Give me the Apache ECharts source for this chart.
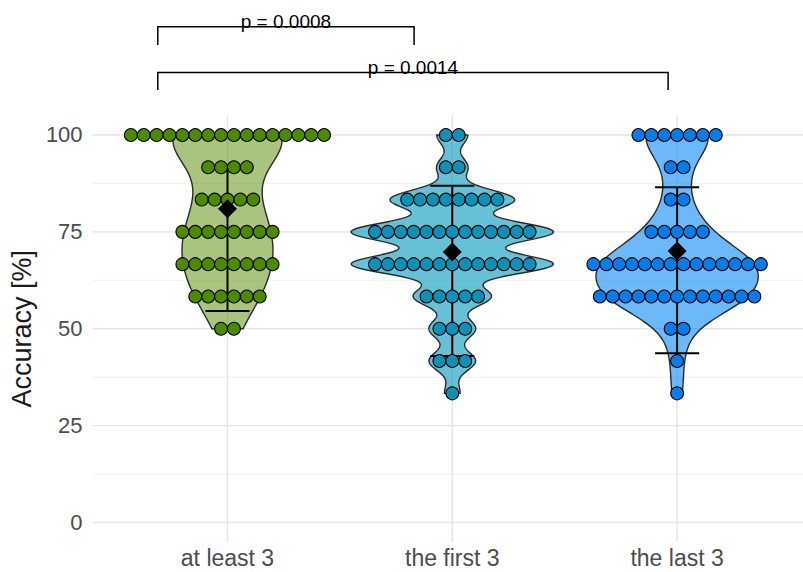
<!DOCTYPE html>
<html>
<head>
<meta charset="utf-8">
<style>
  html, body { margin: 0; padding: 0; background: #fff; }
  #chart { width: 803px; height: 572px; }
</style>
<script src="https://cdn.jsdelivr.net/npm/echarts@6/dist/echarts.min.js"></script>
</head>
<body>
<div id="chart"></div>
<script>
// 分组 / groups
const categories = ['at least 3', 'the first 3', 'the last 3'];
// accuracy levels (steps of 1/12)
const levels = [100, 91.67, 83.33, 75, 66.67, 58.33, 50, 41.67, 33.33];
// participants at each level, per group
const countsAtLeast = [16, 4, 5, 8, 8, 6, 2, 0, 0];
const countsFirst   = [2, 2, 8, 13, 13, 5, 3, 3, 1];
const countsLast    = [7, 2, 2, 5, 14, 13, 2, 1, 1];
// error bar ends
const errLow  = [54.6, 43.0, 43.7];
const errHigh = [91.8, 86.9, 86.5];
// significance brackets
const bracketFrom = [0.69, 0.69];
const bracketTo   = [1.83, 2.96];
const bracketY    = [127.9, 116.1];
const bracketTip  = [123.2, 111.6];
const bracketText = ['p = 0.0008', 'p = 0.0014'];
// tick labels
const yTicks = [0, 25, 50, 75, 100];
const yMinor = [12.5, 37.5, 62.5, 87.5];
const xTicks = [1, 2, 3];

const dotColors = ['#4e8a00', '#1190b5', '#0b7be8'];
const violinFills = ['rgba(81,137,0,0.5)', 'rgba(8,155,189,0.62)', 'rgba(10,137,243,0.6)'];
const FONT = '"Liberation Sans", Arial, sans-serif';
const DOT_STEP = 0.0573;   // dot width in x units
const X_MIN = 0.4, X_MAX = 3.56, Y_MIN = -5, Y_MAX = 105;

function expand(counts) {
  const v = [];
  counts.forEach((c, i) => { for (let k = 0; k < c; k++) v.push(levels[i]); });
  return v.sort((a, b) => a - b);
}
const groups = [countsAtLeast, countsFirst, countsLast].map(expand);

function mean(s) { return s.reduce((a, b) => a + b, 0) / s.length; }
function quantile(s, p) {
  const h = (s.length - 1) * p, lo = Math.floor(h);
  return s[lo] + (h - lo) * (s[Math.min(lo + 1, s.length - 1)] - s[lo]);
}
// R bw.nrd0
function bwNrd0(s) {
  const m = mean(s);
  const sd = Math.sqrt(s.reduce((a, x) => a + (x - m) * (x - m), 0) / (s.length - 1));
  const iqr = quantile(s, 0.75) - quantile(s, 0.25);
  return 0.9 * Math.min(sd, iqr / 1.34) * Math.pow(s.length, -0.2);
}
// gaussian kernel density, trimmed to the data range
function kde(s) {
  const bw = bwNrd0(s), n = s.length, lo = s[0], hi = s[n - 1], out = [];
  const k = 1 / (n * bw * Math.sqrt(2 * Math.PI));
  for (let i = 0; i < 512; i++) {
    const y = lo + (hi - lo) * i / 511;
    let d = 0;
    s.forEach(x => { const z = (y - x) / bw; d += Math.exp(-0.5 * z * z); });
    out.push([y, d * k]);
  }
  return out;
}
const densities = groups.map(kde);
const maxDens = Math.max(...densities.map(d => Math.max(...d.map(p => p[1]))));

// dot positions (centered stacks)
const dotData = groups.map(() => []);
[countsAtLeast, countsFirst, countsLast].forEach((counts, g) => {
  counts.forEach((c, i) => {
    for (let k = 0; k < c; k++) dotData[g].push([g + 1 + (k - (c - 1) / 2) * DOT_STEP, levels[i]]);
  });
});
const means = groups.map((s, g) => [g + 1, mean(s)]);

const chart = echarts.init(document.getElementById('chart'), null, { renderer: 'svg' });

const option = {
  animation: false,
  backgroundColor: '#fff',
  grid: { left: 92, right: 0, top: 115.6, bottom: 30.1 },
  xAxis: {
    type: 'value', min: X_MIN, max: X_MAX,
    axisLine: { show: false }, axisTick: { show: false }, splitLine: { show: false },
    axisLabel: {
      customValues: xTicks,
      formatter: v => categories[Math.round(v) - 1],
      fontSize: 23, color: '#4d4d4d', fontFamily: FONT, margin: 5
    }
  },
  yAxis: {
    type: 'value', min: Y_MIN, max: Y_MAX,
    name: 'Accuracy [%]', nameLocation: 'middle', nameGap: 52,
    nameTextStyle: { fontSize: 27, color: '#1a1a1a', fontFamily: FONT },
    axisLine: { show: false }, axisTick: { show: false }, splitLine: { show: false },
    axisLabel: { customValues: yTicks, fontSize: 22, color: '#4d4d4d', fontFamily: FONT, margin: 10 }
  },
  series: [
    {
      // panel grid
      type: 'custom', silent: true, data: [0],
      renderItem: (params, api) => {
        const children = [];
        const hline = (v, color, w) => {
          const a = api.coord([X_MIN, v]), b = api.coord([X_MAX, v]);
          children.push({ type: 'line', shape: { x1: a[0], y1: a[1], x2: b[0], y2: b[1] }, style: { stroke: color, lineWidth: w } });
        };
        yMinor.forEach(v => hline(v, '#f0f0f0', 1));
        yTicks.forEach(v => hline(v, '#e4e4e4', 1.4));
        xTicks.forEach(v => {
          const a = api.coord([v, Y_MIN]), b = api.coord([v, Y_MAX]);
          children.push({ type: 'line', shape: { x1: a[0], y1: a[1], x2: b[0], y2: b[1] }, style: { stroke: '#e4e4e4', lineWidth: 1.4 } });
        });
        return { type: 'group', children };
      }
    },
    {
      // violins
      type: 'custom', silent: true, data: [0, 1, 2],
      renderItem: (params, api) => {
        const g = api.value(0);
        const d = densities[g], cx = g + 1;
        const right = d.map(p => api.coord([cx + 0.45 * p[1] / maxDens, p[0]]));
        const left = d.slice().reverse().map(p => api.coord([cx - 0.45 * p[1] / maxDens, p[0]]));
        return {
          type: 'polygon',
          shape: { points: right.concat(left) },
          style: { fill: violinFills[g], stroke: '#2b2b2b', lineWidth: 1.4 }
        };
      }
    },
    ...dotData.map((pts, g) => ({
      type: 'scatter', data: pts, symbol: 'circle', symbolSize: 12.8,
      itemStyle: { color: dotColors[g], borderColor: '#000', borderWidth: 1.1, opacity: 1 }
    })),
    {
      // error bars
      type: 'custom', silent: true, data: [0, 1, 2],
      renderItem: (params, api) => {
        const g = api.value(0), cx = g + 1, cap = 0.098;
        const lo = api.coord([cx, errLow[g]]), hi = api.coord([cx, errHigh[g]]);
        const l1 = api.coord([cx - cap, errLow[g]]), r1 = api.coord([cx + cap, errLow[g]]);
        const l2 = api.coord([cx - cap, errHigh[g]]), r2 = api.coord([cx + cap, errHigh[g]]);
        const st = { stroke: '#000', lineWidth: 2 };
        return {
          type: 'group', children: [
            { type: 'line', shape: { x1: lo[0], y1: lo[1], x2: hi[0], y2: hi[1] }, style: st },
            { type: 'line', shape: { x1: l1[0], y1: l1[1], x2: r1[0], y2: r1[1] }, style: st },
            { type: 'line', shape: { x1: l2[0], y1: l2[1], x2: r2[0], y2: r2[1] }, style: st }
          ]
        };
      }
    },
    {
      // means
      type: 'scatter', data: means, symbol: 'diamond', symbolSize: 19,
      itemStyle: { color: '#000', opacity: 1 }
    },
    {
      // significance brackets
      type: 'custom', silent: true, clip: false, data: [0, 1],
      renderItem: (params, api) => {
        const i = api.value(0);
        const a = api.coord([bracketFrom[i], bracketTip[i]]);
        const b = api.coord([bracketFrom[i], bracketY[i]]);
        const c = api.coord([bracketTo[i], bracketY[i]]);
        const d = api.coord([bracketTo[i], bracketTip[i]]);
        return {
          type: 'group', children: [
            { type: 'polyline', shape: { points: [a, b, c, d] }, style: { stroke: '#000', lineWidth: 1.5, fill: null } },
            {
              type: 'text',
              style: {
                text: bracketText[i], x: (b[0] + c[0]) / 2, y: b[1] + 4,
                textAlign: 'center', textVerticalAlign: 'bottom',
                font: '19px ' + FONT, fill: '#000'
              }
            }
          ]
        };
      }
    }
  ]
};
chart.setOption(option);
</script>
</body>
</html>
